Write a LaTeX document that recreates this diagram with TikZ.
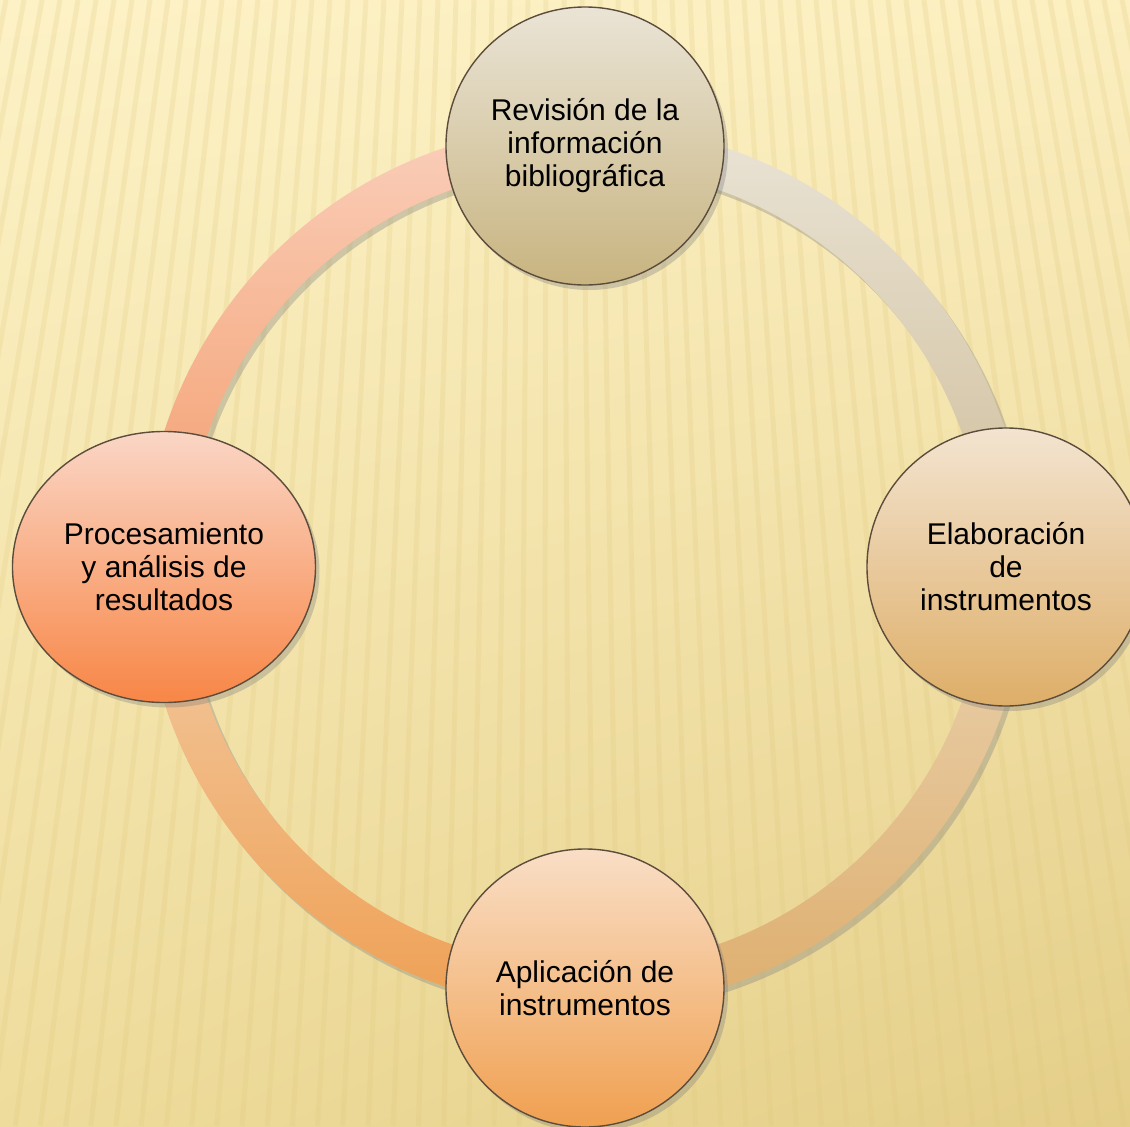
\documentclass[tikz,border=0pt]{standalone}
\usepackage{fontspec}
\setmainfont{Liberation Sans}
\usetikzlibrary{shapes,shadows,shadings}
\pgfdeclarelayer{back}
\pgfdeclarelayer{ring}
\pgfsetlayers{back,ring,main}
\definecolor{bg_tl}{RGB}{253, 242, 198}
\definecolor{bg_tr}{RGB}{252, 239, 192}
\definecolor{bg_bl}{RGB}{238, 220, 156}
\definecolor{bg_br}{RGB}{228, 206, 136}
\definecolor{stripe}{RGB}{224, 200, 124}
\definecolor{edge}{RGB}{92, 76, 60}
\definecolor{rev_top}{RGB}{234, 228, 214}
\definecolor{rev_bot}{RGB}{200, 180, 128}
\definecolor{ela_top}{RGB}{243, 228, 208}
\definecolor{ela_bot}{RGB}{222, 174, 104}
\definecolor{apl_top}{RGB}{249, 222, 198}
\definecolor{apl_bot}{RGB}{240, 160, 80}
\definecolor{pro_top}{RGB}{250, 214, 198}
\definecolor{pro_bot}{RGB}{248, 134, 70}
\tikzstyle{stage}=[circle,draw=edge,line width=0.7pt,inner sep=0pt,
  minimum size=139pt,align=center,font=\fontsize{15}{16.5}\selectfont,
  drop shadow={shadow xshift=2pt,shadow yshift=-2.5pt,opacity=0.35}]
\tikzstyle{revn}=[stage,top color=rev_top,bottom color=rev_bot]
\tikzstyle{elan}=[stage,top color=ela_top,bottom color=ela_bot]
\tikzstyle{apln}=[stage,top color=apl_top,bottom color=apl_bot]
\tikzstyle{pron}=[stage,ellipse,minimum width=151.5pt,minimum height=135.5pt,
  top color=pro_top,bottom color=pro_bot]
\tikzstyle{band}=[drop shadow={shadow xshift=2pt,shadow yshift=-2.5pt,opacity=0.35}]
\begin{document}
\begin{tikzpicture}[x=0.5pt,y=0.5pt]
    \useasboundingbox (-585,-559) rectangle (545,567);
    \node [style=revn] (rev) at (0,421) {Revisión de la\\información\\bibliográfica};
    \node [style=elan] (ela) at (421,0) {Elaboración\\de\\instrumentos};
    \node [style=apln] (apl) at (0,-421) {Aplicación de\\instrumentos};
    \node [style=pron] (pro) at (-421,0) {Procesamiento\\y análisis de\\resultados};
    \begin{pgfonlayer}{back}
        \shade [upper left=bg_tl,upper right=bg_tr,lower left=bg_bl,lower right=bg_br]
            (-585,-559) rectangle (545,567);
        \begin{scope}
            \clip (-585,-559) rectangle (545,567);
            \foreach \s in {-120,-102,...,1300}
                \draw [stripe,line width=2.5pt,opacity=0.22]
                    (\s-585,567) -- ({\s-585+(\s-550)*0.4},-559);
        \end{scope}
    \end{pgfonlayer}
    \begin{pgfonlayer}{ring}
        \shade [style=band,top color={rgb,255:red,250;green,206;blue,186},bottom color={rgb,255:red,243;green,156;blue,106}]
            (pro.center) ++(-21,0) arc[start angle=180,end angle=90,radius=442]
            -- ++(0,-42) arc[start angle=90,end angle=180,radius=400] -- cycle;
        \shade [style=band,top color={rgb,255:red,234;green,228;blue,214},bottom color={rgb,255:red,206;green,188;blue,152}]
            (rev.center) ++(0,21) arc[start angle=90,end angle=0,radius=442]
            -- ++(-42,0) arc[start angle=0,end angle=90,radius=400] -- cycle;
        \shade [style=band,top color={rgb,255:red,234;green,212;blue,178},bottom color={rgb,255:red,222;green,174;blue,110}]
            (ela.center) ++(21,0) arc[start angle=0,end angle=-90,radius=442]
            -- ++(0,42) arc[start angle=-90,end angle=0,radius=400] -- cycle;
        \shade [style=band,top color={rgb,255:red,242;green,204;blue,166},bottom color={rgb,255:red,239;green,160;blue,84}]
            (apl.center) ++(0,-21) arc[start angle=-90,end angle=-180,radius=442]
            -- ++(42,0) arc[start angle=180,end angle=270,radius=400] -- cycle;
    \end{pgfonlayer}
\end{tikzpicture}
\end{document}
